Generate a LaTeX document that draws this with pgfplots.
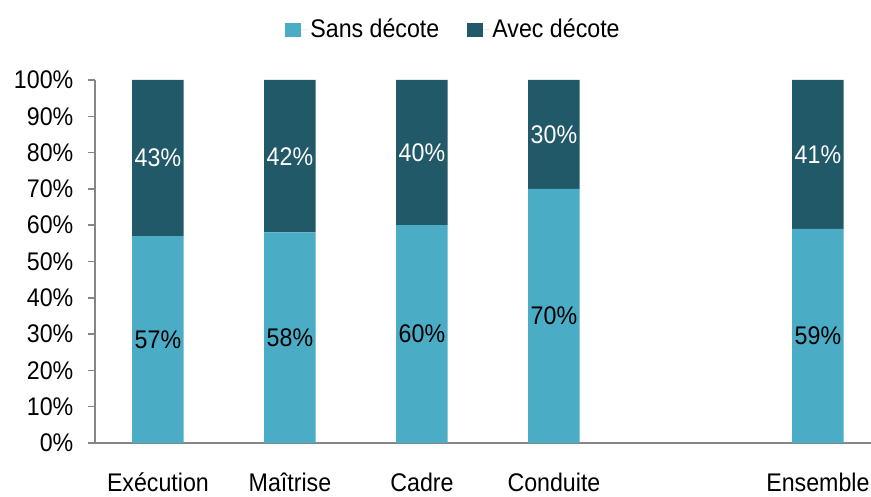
\documentclass[border=0pt]{standalone}
\usepackage{pgfplots}
\pgfplotsset{compat=1.18}
\usepackage{fontspec}
\setmainfont{Liberation Sans}[FakeStretch=0.91]
\definecolor{light}{HTML}{4BACC6}
\definecolor{dark}{HTML}{215968}
\definecolor{axgray}{HTML}{868686}
\begin{document}
\fontsize{25.5bp}{30bp}\selectfont
\begin{tikzpicture}
\path[use as bounding box] (-95bp,-54bp) rectangle (776bp,443bp);
\begin{axis}[
  at={(0,0)}, anchor=south west,
  scale only axis, width=776bp, height=363bp,
  ybar stacked, bar width=0.39,
  xmin=-0.477, xmax=5.402, ymin=0, ymax=100,
  axis x line=bottom, axis y line=left,
  axis line style={axgray, line width=1.5bp, -},
  xtick={0,1,2,3,5},
  xticklabels={Exécution, Maîtrise, Cadre, Conduite, Ensemble},
  xtick style={draw=none},
  xticklabel style={yshift=-14bp},
  ytick={0,10,...,100},
  yticklabel={\pgfmathprintnumber{\tick}\%},
  ytick style={axgray, line width=1.5bp},
  tick align=outside, major tick length=7bp,
  yticklabel style={xshift=-6bp},
  /pgf/number format/assume math mode=true,
  every tick label/.append style={font=\fontsize{25.5bp}{30bp}\selectfont},
  nodes near coords={\pgfmathprintnumber{\pgfplotspointmeta}\%},
  every node near coord/.append style={anchor=center, font=\fontsize{25.5bp}{30bp}\selectfont},
  legend columns=2,
  legend style={at={(0.462,1.138)}, anchor=center, draw=none, fill=none, font=\fontsize{25.5bp}{30bp}\selectfont, /tikz/every even column/.append style={column sep=26bp}},
  legend image code/.code={\fill[#1] (0bp,-7bp) rectangle (16bp,7bp); \path (0bp,0bp) -- (23bp,0bp);},
]
\addplot[fill=light, draw=none, every node near coord/.append style={black}] coordinates {(0,57) (1,58) (2,60) (3,70) (5,59)};
\addplot[fill=dark, draw=none, every node near coord/.append style={white}] coordinates {(0,43) (1,42) (2,40) (3,30) (5,41)};
\legend{Sans décote, Avec décote}
\end{axis}
\end{tikzpicture}
\end{document}
